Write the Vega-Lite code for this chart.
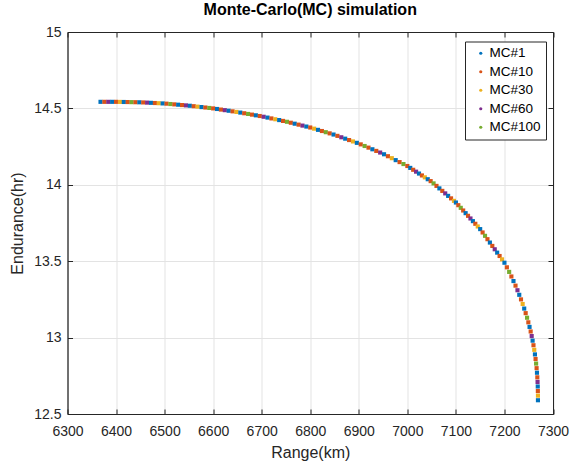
{
  "$schema": "https://vega.github.io/schema/vega-lite/v6.json",
  "autosize": {"type": "none"},
  "width": 485.5,
  "height": 382,
  "padding": {"left": 67.5, "top": 32, "right": 22, "bottom": 48},
  "background": "white",
  "title": {"text": "Monte-Carlo(MC) simulation", "fontSize": 16, "fontWeight": "bold", "font": "Liberation Sans", "color": "#000000", "offset": 7, "anchor": "middle"},
  "config": {
    "view": {"stroke": "#262626", "strokeWidth": 1},
    "axis": {"labelFont": "Liberation Sans", "titleFont": "Liberation Sans", "labelFontSize": 14, "titleFontSize": 16, "titleFontWeight": "normal", "labelColor": "#262626", "titleColor": "#262626", "domainColor": "#262626", "tickColor": "#262626", "tickSize": -5, "gridColor": "#e3e3e3", "gridWidth": 1, "labelFlush": false, "labelOverlap": false}
  },
  "data": {"values": [
    {"range": 6368, "endurance": 14.543, "run": "MC#1"},
    {"range": 6376, "endurance": 14.543, "run": "MC#10"},
    {"range": 6384, "endurance": 14.543, "run": "MC#60"},
    {"range": 6392, "endurance": 14.543, "run": "MC#1"},
    {"range": 6400, "endurance": 14.543, "run": "MC#10"},
    {"range": 6408, "endurance": 14.5425, "run": "MC#30"},
    {"range": 6416, "endurance": 14.542, "run": "MC#1"},
    {"range": 6424, "endurance": 14.5416, "run": "MC#10"},
    {"range": 6432, "endurance": 14.541, "run": "MC#100"},
    {"range": 6440, "endurance": 14.5405, "run": "MC#10"},
    {"range": 6448, "endurance": 14.540, "run": "MC#1"},
    {"range": 6456, "endurance": 14.539, "run": "MC#10"},
    {"range": 6464, "endurance": 14.5378, "run": "MC#60"},
    {"range": 6472, "endurance": 14.5365, "run": "MC#1"},
    {"range": 6480, "endurance": 14.5352, "run": "MC#10"},
    {"range": 6488, "endurance": 14.534, "run": "MC#30"},
    {"range": 6496, "endurance": 14.5326, "run": "MC#1"},
    {"range": 6504, "endurance": 14.531, "run": "MC#10"},
    {"range": 6512, "endurance": 14.5286, "run": "MC#100"},
    {"range": 6520, "endurance": 14.5264, "run": "MC#10"},
    {"range": 6528, "endurance": 14.5242, "run": "MC#1"},
    {"range": 6536, "endurance": 14.5219, "run": "MC#10"},
    {"range": 6544, "endurance": 14.5197, "run": "MC#60"},
    {"range": 6552, "endurance": 14.5173, "run": "MC#1"},
    {"range": 6560, "endurance": 14.5144, "run": "MC#10"},
    {"range": 6568, "endurance": 14.5115, "run": "MC#30"},
    {"range": 6576, "endurance": 14.5086, "run": "MC#1"},
    {"range": 6584, "endurance": 14.5058, "run": "MC#10"},
    {"range": 6592, "endurance": 14.5029, "run": "MC#100"},
    {"range": 6600, "endurance": 14.500, "run": "MC#10"},
    {"range": 6608, "endurance": 14.4962, "run": "MC#1"},
    {"range": 6616, "endurance": 14.4923, "run": "MC#10"},
    {"range": 6624, "endurance": 14.4885, "run": "MC#60"},
    {"range": 6632, "endurance": 14.4846, "run": "MC#1"},
    {"range": 6640, "endurance": 14.4808, "run": "MC#10"},
    {"range": 6648, "endurance": 14.477, "run": "MC#30"},
    {"range": 6656, "endurance": 14.4726, "run": "MC#1"},
    {"range": 6664, "endurance": 14.4682, "run": "MC#10"},
    {"range": 6672, "endurance": 14.4637, "run": "MC#100"},
    {"range": 6680, "endurance": 14.4592, "run": "MC#10"},
    {"range": 6688, "endurance": 14.4547, "run": "MC#1"},
    {"range": 6696, "endurance": 14.4502, "run": "MC#10"},
    {"range": 6704, "endurance": 14.4453, "run": "MC#60"},
    {"range": 6712, "endurance": 14.4398, "run": "MC#1"},
    {"range": 6720, "endurance": 14.4344, "run": "MC#10"},
    {"range": 6728, "endurance": 14.429, "run": "MC#30"},
    {"range": 6736, "endurance": 14.4235, "run": "MC#1"},
    {"range": 6744, "endurance": 14.4181, "run": "MC#10"},
    {"range": 6752, "endurance": 14.4124, "run": "MC#100"},
    {"range": 6760, "endurance": 14.4062, "run": "MC#10"},
    {"range": 6768, "endurance": 14.3999, "run": "MC#1"},
    {"range": 6776, "endurance": 14.3937, "run": "MC#10"},
    {"range": 6784, "endurance": 14.3875, "run": "MC#60"},
    {"range": 6792, "endurance": 14.3812, "run": "MC#1"},
    {"range": 6800, "endurance": 14.375, "run": "MC#10"},
    {"range": 6808, "endurance": 14.3673, "run": "MC#30"},
    {"range": 6816, "endurance": 14.3596, "run": "MC#1"},
    {"range": 6824, "endurance": 14.352, "run": "MC#10"},
    {"range": 6832, "endurance": 14.3443, "run": "MC#100"},
    {"range": 6840, "endurance": 14.3366, "run": "MC#10"},
    {"range": 6848, "endurance": 14.3289, "run": "MC#1"},
    {"range": 6856, "endurance": 14.3202, "run": "MC#10"},
    {"range": 6864, "endurance": 14.311, "run": "MC#60"},
    {"range": 6872, "endurance": 14.3019, "run": "MC#1"},
    {"range": 6880, "endurance": 14.2928, "run": "MC#10"},
    {"range": 6888, "endurance": 14.2837, "run": "MC#30"},
    {"range": 6896, "endurance": 14.2746, "run": "MC#1"},
    {"range": 6904, "endurance": 14.2646, "run": "MC#10"},
    {"range": 6912, "endurance": 14.2539, "run": "MC#100"},
    {"range": 6920, "endurance": 14.2432, "run": "MC#10"},
    {"range": 6928, "endurance": 14.2325, "run": "MC#1"},
    {"range": 6936, "endurance": 14.2218, "run": "MC#10"},
    {"range": 6944, "endurance": 14.2111, "run": "MC#60"},
    {"range": 6952, "endurance": 14.1998, "run": "MC#1"},
    {"range": 6960, "endurance": 14.187, "run": "MC#10"},
    {"range": 6968, "endurance": 14.1742, "run": "MC#30"},
    {"range": 6976, "endurance": 14.1614, "run": "MC#1"},
    {"range": 6984, "endurance": 14.1486, "run": "MC#10"},
    {"range": 6992, "endurance": 14.1358, "run": "MC#100"},
    {"range": 7000, "endurance": 14.123, "run": "MC#10"},
    {"range": 7006, "endurance": 14.1106, "run": "MC#1"},
    {"range": 7012, "endurance": 14.0983, "run": "MC#10"},
    {"range": 7018, "endurance": 14.0859, "run": "MC#60"},
    {"range": 7024, "endurance": 14.0736, "run": "MC#1"},
    {"range": 7030, "endurance": 14.0612, "run": "MC#10"},
    {"range": 7036, "endurance": 14.0488, "run": "MC#30"},
    {"range": 7042, "endurance": 14.0365, "run": "MC#1"},
    {"range": 7048, "endurance": 14.0241, "run": "MC#10"},
    {"range": 7054, "endurance": 14.0091, "run": "MC#100"},
    {"range": 7060, "endurance": 13.9928, "run": "MC#10"},
    {"range": 7066, "endurance": 13.9765, "run": "MC#1"},
    {"range": 7072, "endurance": 13.9602, "run": "MC#10"},
    {"range": 7078, "endurance": 13.9438, "run": "MC#60"},
    {"range": 7084, "endurance": 13.9275, "run": "MC#1"},
    {"range": 7090, "endurance": 13.9112, "run": "MC#10"},
    {"range": 7096, "endurance": 13.8949, "run": "MC#30"},
    {"range": 7100, "endurance": 13.884, "run": "MC#1"},
    {"range": 7105, "endurance": 13.8666, "run": "MC#10"},
    {"range": 7110, "endurance": 13.8492, "run": "MC#100"},
    {"range": 7115, "endurance": 13.8318, "run": "MC#10"},
    {"range": 7120, "endurance": 13.8144, "run": "MC#1"},
    {"range": 7125, "endurance": 13.797, "run": "MC#10"},
    {"range": 7130, "endurance": 13.7796, "run": "MC#60"},
    {"range": 7135, "endurance": 13.7622, "run": "MC#1"},
    {"range": 7140, "endurance": 13.7448, "run": "MC#10"},
    {"range": 7145, "endurance": 13.7274, "run": "MC#30"},
    {"range": 7150, "endurance": 13.71, "run": "MC#1"},
    {"range": 7155, "endurance": 13.688, "run": "MC#10"},
    {"range": 7160, "endurance": 13.666, "run": "MC#100"},
    {"range": 7165, "endurance": 13.644, "run": "MC#10"},
    {"range": 7170, "endurance": 13.622, "run": "MC#1"},
    {"range": 7175, "endurance": 13.60, "run": "MC#10"},
    {"range": 7180, "endurance": 13.578, "run": "MC#60"},
    {"range": 7185, "endurance": 13.556, "run": "MC#1"},
    {"range": 7190, "endurance": 13.534, "run": "MC#10"},
    {"range": 7195, "endurance": 13.512, "run": "MC#30"},
    {"range": 7200, "endurance": 13.49, "run": "MC#1"},
    {"range": 7205.0, "endurance": 13.46, "run": "MC#10"},
    {"range": 7209.7, "endurance": 13.43, "run": "MC#100"},
    {"range": 7214.3, "endurance": 13.40, "run": "MC#10"},
    {"range": 7218.6, "endurance": 13.37, "run": "MC#1"},
    {"range": 7222.8, "endurance": 13.34, "run": "MC#10"},
    {"range": 7226.8, "endurance": 13.31, "run": "MC#60"},
    {"range": 7230.5, "endurance": 13.28, "run": "MC#1"},
    {"range": 7234.1, "endurance": 13.25, "run": "MC#10"},
    {"range": 7237.5, "endurance": 13.22, "run": "MC#30"},
    {"range": 7240.7, "endurance": 13.19, "run": "MC#1"},
    {"range": 7243.7, "endurance": 13.16, "run": "MC#10"},
    {"range": 7246.6, "endurance": 13.13, "run": "MC#100"},
    {"range": 7249.2, "endurance": 13.10, "run": "MC#10"},
    {"range": 7251.7, "endurance": 13.07, "run": "MC#1"},
    {"range": 7254.0, "endurance": 13.04, "run": "MC#10"},
    {"range": 7256.1, "endurance": 13.01, "run": "MC#60"},
    {"range": 7258.0, "endurance": 12.98, "run": "MC#1"},
    {"range": 7259.8, "endurance": 12.95, "run": "MC#10"},
    {"range": 7261.4, "endurance": 12.92, "run": "MC#30"},
    {"range": 7262.8, "endurance": 12.89, "run": "MC#1"},
    {"range": 7264.1, "endurance": 12.86, "run": "MC#10"},
    {"range": 7265.2, "endurance": 12.83, "run": "MC#100"},
    {"range": 7266.2, "endurance": 12.80, "run": "MC#10"},
    {"range": 7267.0, "endurance": 12.77, "run": "MC#1"},
    {"range": 7267.7, "endurance": 12.74, "run": "MC#10"},
    {"range": 7268.2, "endurance": 12.71, "run": "MC#60"},
    {"range": 7268.6, "endurance": 12.68, "run": "MC#1"},
    {"range": 7268.8, "endurance": 12.65, "run": "MC#10"},
    {"range": 7269.0, "endurance": 12.62, "run": "MC#30"},
    {"range": 7269.0, "endurance": 12.59, "run": "MC#1"}
  ]},
  "layer": [
    {
      "mark": {"type": "point", "filled": true, "shape": "square", "size": 17, "opacity": 1},
      "encoding": {
        "x": {"field": "range", "type": "quantitative", "scale": {"domain": [6300, 7300], "nice": false, "zero": false},
              "axis": {"values": [6300, 6400, 6500, 6600, 6700, 6800, 6900, 7000, 7100, 7200, 7300], "format": "d", "title": "Range(km)", "grid": true, "labelPadding": 15, "titlePadding": 6}},
        "y": {"field": "endurance", "type": "quantitative", "scale": {"domain": [12.5, 15], "nice": false, "zero": false},
              "axis": {"values": [12.5, 13, 13.5, 14, 14.5, 15], "format": "~g", "title": "Endurance(hr)", "grid": true, "labelPadding": 11.5, "titlePadding": 8}},
        "color": {"field": "run", "type": "nominal",
                  "scale": {"domain": ["MC#1", "MC#10", "MC#30", "MC#60", "MC#100"], "range": ["#0072BD", "#D95319", "#EDB120", "#7E2F8E", "#77AC30"]},
                  "legend": {"title": null, "orient": "none", "legendX": 397.5, "legendY": 9.5, "strokeColor": "#262626", "fillColor": "white", "padding": 5, "symbolOffset": 4, "labelOffset": 2, "labelFont": "Liberation Sans", "labelFontSize": 13.5, "labelColor": "#000000", "symbolType": "circle", "symbolSize": 10, "rowPadding": 3.5}}
      }
    },
    {
      "mark": {"type": "point", "opacity": 0},
      "encoding": {
        "x": {"field": "range", "type": "quantitative", "axis": {"orient": "top", "values": [6300, 6400, 6500, 6600, 6700, 6800, 6900, 7000, 7100, 7200, 7300], "labels": false, "title": null, "grid": false}},
        "y": {"field": "endurance", "type": "quantitative", "axis": {"orient": "right", "values": [12.5, 13, 13.5, 14, 14.5, 15], "labels": false, "title": null, "grid": false}}
      }
    }
  ],
  "resolve": {"axis": {"x": "independent", "y": "independent"}}
}
